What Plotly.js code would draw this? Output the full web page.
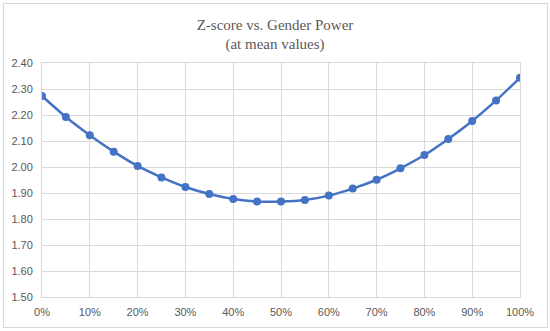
<!DOCTYPE html>
<html>
<head>
<meta charset="utf-8">
<script src="https://cdn.plot.ly/plotly-3.0.1.min.js"></script>
<style>
html,body{margin:0;padding:0;background:#fff;}
#wrap{position:relative;width:550px;height:331px;}
#chart{width:550px;height:331px;}
#frame{position:absolute;left:3px;top:3px;width:543px;height:323px;border:1px solid #d9d9d9;pointer-events:none;}
</style>
</head>
<body>
<div id="wrap"><div id="chart"></div><div id="frame"></div></div>
<script>
const genderPower = [0,0.05,0.10,0.15,0.20,0.25,0.30,0.35,0.40,0.45,0.50,0.55,0.60,0.65,0.70,0.75,0.80,0.85,0.90,0.95,1.00];
const zScore = [2.273,2.192,2.122,2.059,2.004,1.960,1.923,1.896,1.877,1.867,1.867,1.873,1.890,1.917,1.951,1.995,2.046,2.108,2.177,2.256,2.343];
const titleText = "Z-score vs. Gender Power<br>(at mean values)";

const data = [{
  x: genderPower,
  y: zScore,
  type: 'scatter',
  mode: 'lines+markers',
  line: {color: '#4472C4', width: 2.5, shape: 'spline', smoothing: 0.6},
  marker: {color: '#4472C4', size: 8},
  hoverinfo: 'x+y'
}];

const tickFont = {family: 'Liberation Sans, Arial, sans-serif', size: 11, color: '#595959'};
const layout = {
  width: 550, height: 331,
  margin: {l: 42, r: 30, t: 63, b: 34},
  paper_bgcolor: '#fff', plot_bgcolor: '#fff',
  showlegend: false,
  title: {
    text: titleText,
    font: {family: 'Liberation Serif, Times New Roman, serif', size: 15, color: '#595959'},
    x: 0.5, xanchor: 'center', xref: 'container',
    y: 0.91, yanchor: 'top', yref: 'container'
  },
  xaxis: {
    range: [0, 1], dtick: 0.1, tick0: 0, tickformat: '.0%',
    showgrid: true, gridcolor: '#d9d9d9', gridwidth: 1,
    zeroline: false, showline: true, linecolor: '#d9d9d9', mirror: true,
    ticks: '', ticklabelstandoff: 5, tickfont: tickFont, fixedrange: true
  },
  yaxis: {
    range: [1.5, 2.4], dtick: 0.1, tick0: 1.5, tickformat: '.2f',
    showgrid: true, gridcolor: '#d9d9d9', gridwidth: 1,
    zeroline: false, showline: true, linecolor: '#d9d9d9', mirror: true,
    ticks: '', ticklabelstandoff: 6, tickfont: tickFont, fixedrange: true
  }
};
Plotly.newPlot('chart', data, layout, {displayModeBar: false, staticPlot: true});
</script>
</body>
</html>
